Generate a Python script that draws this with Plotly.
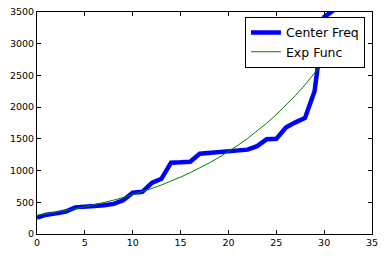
import plotly.graph_objects as go

x_vals = list(range(0, 32))
center_freq = [260, 305, 325, 355, 420, 425, 440, 455, 475, 530,
               650, 665, 805, 870, 1125, 1130, 1140, 1265, 1275, 1285,
               1295, 1310, 1330, 1385, 1495, 1500, 1680, 1760, 1830, 2250,
               3420, 3530]
exp_func = [295, 318, 342, 369, 397, 427, 460, 496, 534, 575,
            619, 667, 718, 773, 833, 897, 966, 1040, 1120, 1206,
            1299, 1399, 1507, 1623, 1748, 1882, 2027, 2183, 2351, 2532,
            2727, 2937]

x_ticks = [0, 5, 10, 15, 20, 25, 30, 35]
y_ticks = [0, 500, 1000, 1500, 2000, 2500, 3000, 3500]

fig = go.Figure()
fig.add_trace(go.Scatter(x=x_vals, y=center_freq, mode="lines", name="Center Freq",
                         line=dict(color="#0000FF", width=4.5)))
fig.add_trace(go.Scatter(x=x_vals, y=exp_func, mode="lines", name="Exp Func",
                         line=dict(color="#008000", width=1)))

axis_common = dict(showgrid=False, zeroline=False, showline=True, linecolor="black",
                   linewidth=1, mirror="ticks", ticks="inside", ticklen=4,
                   tickcolor="black", tickfont=dict(size=9.5, color="black"),
                   automargin=False)

fig.update_layout(
    width=385, height=256,
    margin=dict(l=37, r=13, t=12, b=22),
    paper_bgcolor="white", plot_bgcolor="white",
    font=dict(family="DejaVu Sans", color="black"),
    xaxis=dict(range=[0, 35], tickvals=x_ticks, **axis_common),
    yaxis=dict(range=[0, 3500], tickvals=y_ticks, **axis_common),
    legend=dict(x=0.979, y=0.978, xanchor="right", yanchor="top",
                bgcolor="white", bordercolor="black", borderwidth=1,
                font=dict(size=12.5, color="black"), tracegroupgap=0),
    showlegend=True,
)

fig.write_html("out.html", config={"displayModeBar": False},
               post_script="document.body.style.margin='0';document.body.style.padding='0';")
